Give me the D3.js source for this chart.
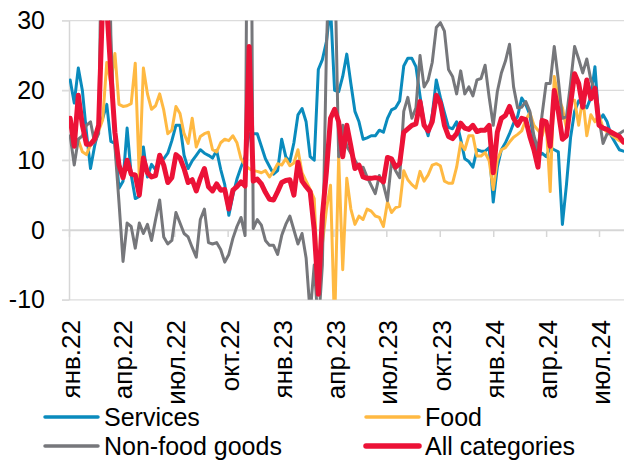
<!DOCTYPE html>
<html>
<head>
<meta charset="utf-8">
<script src="https://cdn.jsdelivr.net/npm/d3@7"></script>
<style>
  html, body { margin: 0; padding: 0; background: #ffffff; }
  svg { display: block; }
  text { font-family: "Liberation Sans", Arial, sans-serif; fill: #000; }
</style>
</head>
<body>
<svg id="chart" width="624" height="461"></svg>
<script>
// Weekly price growth, % saar, by category
const firstWeek = new Date(2022, 0, 3);

const services = [
  21.5, 18.2, 23.2, 20, 14, 8.8, 12, 14.5, 16, 18,
  12.7, 12.4, 6, 7, 14.6, 7.9, 4.5, 4.8, 11.9, 7.6,
  9.4, 8.6, 10, 10.2, 11, 12.8, 15, 15, 10.7, 8.8,
  9.9, 10.7, 11.5, 11, 10.7, 10.3, 11.4, 8.7, 6.5, 2.1,
  5, 7.3, 9, 10.5, 13.8, 13.8, 13.8, 12, 10.2, 9.1,
  8, 8.5, 13, 10.5, 9.8, 12.5, 16.5, 17.4, 15.5, 10.5,
  10, 23, 24.4, 27, 32, 20, 19.8, 22, 25.2, 21,
  17, 15.5, 13, 13.2, 13.5, 13.5, 14.3, 14, 16, 17.2,
  17.5, 18.5, 23.5, 24.6, 24.6, 23.4, 19.2, 15.4, 13.5, 16.5,
  21.5, 19, 16.8, 14.7, 14.5, 15.5, 13, 10.2, 9.8, 9,
  11.5, 11.3, 11.3, 11.8, 4, 9, 11.5, 12.5, 13.8, 15.3,
  16.3, 18.9, 18, 16.5, 12.7, 10.5, 11, 10.5, 11.8, 11.5,
  11.2, 0.8, 6.5, 13.2, 17, 18.5, 18, 17.5, 19, 23.4,
  15.5, 16.5, 15.5, 13.5, 12.5, 11.5, 11.3
];

const food = [
  15, 13, 12.9, 11.2, 10.8, 12.2, 13.4, 14.2, 15.8, 24,
  21, 25.3, 18, 17.7, 17.8, 18.1, 23.9, 7.5, 23.2, 19.5,
  17.3, 17.8, 19.5, 17.2, 13.8, 14.3, 17.7, 16.7, 13.8, 12.4,
  16, 11.9, 13.4, 13.8, 14, 11.5, 11.2, 12.5, 13, 12.8,
  13.5, 12.5, 10.2, 9.3, 8.8, 8.5, 8.4, 8.2, 8.5, 7.6,
  8.4, 9.5, 9.3, 10.2, 9.2, 9.6, 11.5, 8.2, 7, 5.8,
  4.5, -9, -2, 3, 6.4, -14, 10.5, -5.7, 7.4, 3,
  0.8, 2, 1.5, 3, 2.7, 2, 1.8, 0.5, 4, 2.5,
  3.2, 3.4, 8.5, 7.2, 6.5, 6, 8.4, 7, 7.9, 9.3,
  9.5, 9.2, 7, 6.7, 6.7, 9, 12.5, 11.5, 13.5, 13.5,
  10.6, 10.6, 11.1, 9.9, 5.8, 10, 11.5, 11.8, 12.6, 13.3,
  13.7, 14.2, 15.8, 16.8, 15, 14.3, 13.5, 15.5, 5.5, 22,
  18.9, 17.5, 14.5, 18.5, 18.6, 15, 19, 13.5, 16.5, 15.5,
  16.5, 14.6, 14, 13.6, 13.2, 12.8, 12.5
];

const nonFood = [
  13.5, 9.3, 13, 13.5, 15, 15.5, 12.5, 13.8, 55, 60,
  28, 12, 4, -4.5, 1, 0.5, -2.6, 1, -0.5, 0.8,
  -1.5, 1.5, 4.3, -1, -2, -1.5, 2.5, 1, -0.5, -1,
  -2.5, -3.9, 1.5, 3, -1.8, -2, -1.8, -2.8, -4.6, -3.5,
  -1.2, 0.5, 1.8, -0.8, 95, 0.2, 1.5, 0.7, -1.5, -2.2,
  -2.2, -3.5, -0.8, 0.8, 2, 0, -2, -0.5, -4, -12,
  -5, -14, -5, 26, 45, 40, 10.5, 15, 12, 11,
  10, 9, 9, 7.6, 6.4, 5.2, 7.8, 6.5, 4.2, 9.8,
  8.5, 7.5, 17, 19, 16, 17.5, 25, 20.5, 21.5, 24,
  29, 29.7, 28.5, 23, 22, 19.5, 22.8, 19.5, 20.5, 19.2,
  21.5, 21.7, 23.6, 19, 15, 19.8, 22.5, 24.2, 26.6, 20.5,
  17.5, 17.6, 18.4, 17, 13.5, 11.5, 16.5, 21, 21, 26.3,
  21.5, 16, 16.2, 21, 26.3, 24.5, 22.5, 24.5, 21.5, 20,
  16, 12.4, 13.8, 13.8, 13.5, 13.8, 14.2
];

const allCategories = [
  16, 12, 19.3, 15, 12.3, 12.3, 13, 15, 33, 32,
  22.5, 14, 9.3, 7.5, 10, 8, 7.9, 5, 10.3, 8.2,
  7.6, 7.8, 10.7, 9.3, 6.8, 7.5, 10.8, 10.3, 8.8, 6.8,
  7.2, 5.6, 7.4, 8.8, 6.2, 5.6, 6.6, 5.7, 5.8, 3,
  5.7, 6.2, 6.9, 6.3, 26.3, 7, 7.3, 6.6, 5.4, 4.4,
  4.3, 5.5, 6.8, 7.1, 7.2, 5, 9.7, 7, 6.2, 5.5,
  0, -9.2, 2, 8.4, 16, 17.3, 15.5, 10.5, 15, 12,
  8.8, 9.3, 7.6, 7.4, 7.4, 7.5, 7.4, 6.9, 10.4, 10.2,
  9, 9.5, 14, 14.5, 15, 15.2, 18.4, 15, 14.2, 15.5,
  19.3, 18.2, 15, 13.4, 13.1, 13.8, 15.3, 14.6, 14.4, 15,
  14.1, 14.3, 14.3, 15, 8.2, 14, 16, 16.4, 17.7, 16,
  15, 16, 15.8, 13.4, 11.5, 9, 15.7, 15.5, 12, 20,
  17, 13, 13.5, 18, 22.4, 21, 17.6, 21.5, 18.8, 20.3,
  15, 14.6, 14.4, 14, 13.7, 13.4, 12.6
];

const tickLabels = ["янв.22", "апр.22", "июл.22", "окт.22", "янв.23", "апр.23",
                    "июл.23", "окт.23", "янв.24", "апр.24", "июл.24"];
const yTicks = [30, 20, 10, 0, -10];

const seriesNames  = ["Services", "Food", "Non-food goods", "All categories"];
const seriesValues = [services, food, nonFood, allCategories];
const seriesColors = ["#0a8bbd", "#ffb942", "#76777b", "#ec1237"];
const seriesWidths = [3, 3, 3, 5];

const weeks = d3.range(services.length).map(i => d3.timeDay.offset(firstWeek, 7 * i));

const svg = d3.select("#chart");
const plotLeft = 69, plotRight = 624, plotTop = 20.6, plotBottom = 299.8;

const x = d3.scaleTime()
  .domain([new Date(2022, 0, 1), new Date(2024, 7, 13)])
  .range([plotLeft, plotRight]);
const y = d3.scaleLinear().domain([-10, 30]).range([plotBottom, plotTop]);

const quarterTicks = d3.timeMonth.every(3).range(new Date(2022, 0, 1), new Date(2024, 7, 1));

// horizontal gridlines
svg.append("g")
  .selectAll("line")
  .data(yTicks)
  .join("line")
  .attr("x1", plotLeft - 7).attr("x2", plotRight)
  .attr("y1", d => y(d)).attr("y2", d => y(d))
  .attr("stroke", "#dcdcdc").attr("stroke-width", 1.3);

// y axis (plain hyphen for negatives)
const yAxis = svg.append("g")
  .attr("transform", `translate(${plotLeft},0)`)
  .call(d3.axisLeft(y).tickValues(yTicks).tickSize(7).tickSizeOuter(0).tickPadding(17)
    .tickFormat(d => String(d)));
yAxis.select(".domain").attr("stroke", "#d6d6d6").attr("stroke-width", 1.5);
yAxis.selectAll(".tick line").attr("stroke", "#dcdcdc").attr("stroke-width", 1.3);
yAxis.selectAll(".tick text")
  .style("font-family", '"Liberation Sans", Arial, sans-serif')
  .style("font-size", "25px").attr("fill", "#000");

// x axis along the zero line
const xAxis = svg.append("g")
  .attr("transform", `translate(0,${y(0)})`)
  .call(d3.axisBottom(x).tickValues(quarterTicks).tickSize(7).tickSizeOuter(0).tickFormat(""));
xAxis.select(".domain").attr("stroke", "#d6d6d6").attr("stroke-width", 1.5);
xAxis.selectAll(".tick line").attr("stroke", "#d6d6d6").attr("stroke-width", 1.5);

// quarter labels under the plot
svg.append("g")
  .selectAll("text")
  .data(quarterTicks)
  .join("text")
  .attr("transform", d => `translate(${x(d) + 2},320) rotate(-90)`)
  .attr("text-anchor", "end")
  .attr("dy", "0.35em")
  .style("font-size", "26px")
  .text((d, i) => tickLabels[i]);

// series lines
svg.append("clipPath").attr("id", "plot-clip")
  .append("rect")
  .attr("x", plotLeft).attr("y", plotTop)
  .attr("width", plotRight - plotLeft).attr("height", plotBottom - plotTop);

const line = d3.line()
  .x((d, i) => x(weeks[i]))
  .y(d => y(d));

svg.append("g")
  .attr("clip-path", "url(#plot-clip)")
  .selectAll("path")
  .data(seriesValues)
  .join("path")
  .attr("d", d => line(d))
  .attr("fill", "none")
  .attr("stroke", (d, i) => seriesColors[i])
  .attr("stroke-width", (d, i) => seriesWidths[i])
  .attr("stroke-linejoin", "round")
  .attr("stroke-linecap", "round");

// legend, two columns
const legendCols = [45, 366];
const legendRows = [417, 446];
const legend = svg.append("g")
  .selectAll("g")
  .data(seriesNames)
  .join("g")
  .attr("transform", (d, i) => `translate(${legendCols[i % 2]},${legendRows[Math.floor(i / 2)]})`);
legend.append("line")
  .attr("x1", 0).attr("x2", 53)
  .attr("stroke", (d, i) => seriesColors[i])
  .attr("stroke-width", (d, i) => seriesWidths[i] + 0.5)
  .attr("stroke-linecap", "round");
legend.append("text")
  .attr("x", 59)
  .attr("dy", "0.35em")
  .style("font-size", "25px")
  .text(d => d);
</script>
</body>
</html>
